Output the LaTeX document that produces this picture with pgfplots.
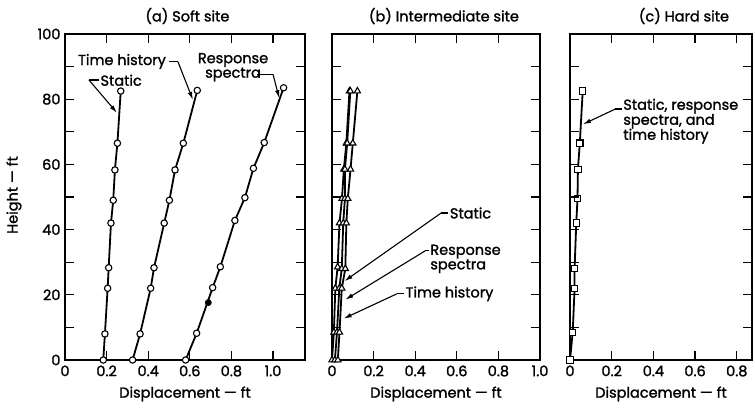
\documentclass[border=0pt]{standalone}
\usepackage{pgfplots}
\pgfplotsset{compat=1.18}
\usepackage{fontspec}
\setmainfont{Poppins}[UprightFeatures={FakeBold=1.4}]
\usetikzlibrary{arrows.meta}

\newcommand\lbl{\fontsize{14.5}{15.5}\selectfont}

\pgfplotsset{
  site/.style={
    scale only axis, height=326pt, ymin=0, ymax=100,
    axis line style={line width=1.4pt},
    xtick style={draw=black, line width=1.2pt},
    ytick style={draw=black, line width=1.2pt},
    tick align=inside, major tick length=9pt, minor tick length=9pt,
    ytick={0,20,40,60,80,100}, minor ytick={10,30,50,70,90},
    yticklabels={0,20,40,60,80,100},
    font=\lbl,
    tick label style={font=\lbl},
    /pgf/number format/assume math mode=true,
    xticklabel style={yshift=-2pt},
    xlabel={Displacement — ft},
    xlabel style={at={(axis description cs:0.5,0)}, anchor=center, yshift=-34pt},
    clip=false,
  },
  prof/.style={line width=1.8pt, black, mark size=3.2pt,
    mark options={fill=white, draw=black, line width=1.1pt, solid}},
}
\tikzset{
  lead/.style={line width=1.1pt, black},
  arr/.style={line width=1.1pt, black, -{Latex[length=8pt,width=4.5pt]}},
  tk/.style={line width=1.3pt, draw=black},
}

\begin{document}
\begin{tikzpicture}
\path[use as bounding box] (0pt,0pt) rectangle (755pt,407pt);

% (a) Soft site
\begin{axis}[site, at={(65pt,47pt)}, anchor=south west, width=240pt,
  xmin=0, xmax=1.154,
  xtick={0,0.2,0.4,0.6,0.8,1.0}, xticklabels={0,0.2,0.4,0.6,0.8,1.0},
  ylabel={Height — ft},
  ylabel style={at={(axis description cs:-0.2125,0.506)}, anchor=center},
  yticklabel style={xshift=-1pt},
  title={(a) Soft site}, title style={at={(axis description cs:0.51,1)}, anchor=center, yshift=12pt}]
% static
\addplot[prof, mark=*] coordinates {
  (0.184,0) (0.192,8) (0.205,22) (0.210,28.3) (0.221,42) (0.232,49)
  (0.240,58.3) (0.252,66.5) (0.268,82.5)};
% time history
\addplot[prof, mark=*] coordinates {
  (0.325,0) (0.361,8) (0.412,22) (0.428,28.3) (0.477,42) (0.502,49)
  (0.529,58.3) (0.569,66.5) (0.636,82.7)};
% response spectra
\addplot[prof, mark=*] coordinates {
  (0.580,0) (0.633,8.2) (0.710,22.2) (0.747,28.6) (0.817,42.8) (0.865,49.8)
  (0.906,58.8) (0.958,66.7) (1.051,83.5)};
\addplot[only marks, mark=*, mark size=3.2pt, black] coordinates {(0.689,17.6)};

\node at (axis cs:0.274,91.6) {Time history};
\draw[lead] (axis cs:0.500,91.5) -- (axis cs:0.543,91.5);
\draw[arr] (axis cs:0.543,91.5) -- (axis cs:0.615,79.8);
\node[anchor=west, inner sep=0pt] at (axis cs:0.170,85.8) {Static};
\draw[lead] (axis cs:0.165,85.9) -- (axis cs:0.115,85.9);
\draw[arr] (axis cs:0.115,85.9) -- (axis cs:0.250,75.8);
\node[align=center, inner sep=0pt] at (axis cs:0.808,89.8) {Response\\[-1pt]spectra};
\draw[lead] (axis cs:0.925,87.7) -- (axis cs:1.0,87.7);
\draw[arr] (axis cs:1.0,87.7) -- (axis cs:1.030,80.3);
\end{axis}

% (b) Intermediate site
\begin{axis}[site, at={(332pt,47pt)}, anchor=south west, width=208pt,
  xmin=0, xmax=1.0,
  xtick={0,0.2,0.4,0.6,0.8,1.0}, xticklabels={0,0.2,0.4,0.6,0.8,1.0},
  yticklabels={},
  title={(b) Intermediate site}, title style={at={(axis description cs:0.538,1)}, anchor=center, yshift=12pt}]
% time history
\addplot[prof, mark=triangle*, mark size=3.6pt] coordinates {
  (0,0) (0.009,8.5) (0.016,22) (0.027,28.5) (0.036,42) (0.048,49.5)
  (0.057,58.5) (0.069,66.5) (0.084,82.5)};
% response spectra
\addplot[prof, mark=triangle*, mark size=3.6pt] coordinates {
  (0.014,0) (0.024,8.5) (0.035,22) (0.047,28) (0.054,42) (0.062,49.5)
  (0.062,58.5) (0.073,66.5) (0.088,82.5)};
% static
\addplot[prof, mark=triangle*, mark size=3.6pt] coordinates {
  (0.028,0) (0.036,8.5) (0.047,22) (0.064,28) (0.069,42) (0.076,49.5)
  (0.089,58.5) (0.100,66.5) (0.122,82.5)};

\node[anchor=west, inner sep=0pt] at (axis cs:0.566,45.1) {Static};
\draw[lead] (axis cs:0.525,45.1) -- (axis cs:0.560,45.1);
\draw[arr] (axis cs:0.525,45.1) -- (axis cs:0.060,24.2);
\node[anchor=west, align=left, inner sep=0pt] at (axis cs:0.472,31.0) {Response\\[-1pt]spectra};
\draw[lead] (axis cs:0.451,33.6) -- (axis cs:0.468,33.6);
\draw[arr] (axis cs:0.451,33.6) -- (axis cs:0.064,18.5);
\node[anchor=west, inner sep=0pt] at (axis cs:0.353,20.3) {Time history};
\draw[lead] (axis cs:0.312,20.3) -- (axis cs:0.348,20.3);
\draw[arr] (axis cs:0.312,20.3) -- (axis cs:0.056,12.7);
\end{axis}

% (c) Hard site
\begin{axis}[site, at={(570pt,47pt)}, anchor=south west, width=182pt,
  xmin=0, xmax=0.873,
  xtick={0,0.2,0.4,0.6,0.8}, xticklabels={0,0.2,0.4,0.6,0.8},
  yticklabels={},
  title={(c) Hard site}, title style={at={(axis description cs:0.626,1)}, anchor=center, yshift=12pt}]
\addplot[prof, mark=square*, mark size=3.2pt] coordinates {
  (0,0) (0.013,8.5) (0.022,22) (0.022,28) (0.030,42) (0.036,49.5)
  (0.038,58.5) (0.047,66.5) (0.061,82.5)};

\node[anchor=north west, align=left, inner sep=0pt, font=\fontsize{14.5}{15}\selectfont]
  at (axis cs:0.255,80.2) {Static, response\\spectra, and\\time history};
\draw[lead] (axis cs:0.218,77) -- (axis cs:0.250,77);
\draw[arr] (axis cs:0.218,77) -- (axis cs:0.062,72.3);
\end{axis}

% inward tick marks round each panel frame (0.2 ft across, 10 ft up)
\foreach \xa/\w/\xm/\last in {65/240/1.154/1.0, 332/208/1.0/0.8, 570/182/0.873/0.8} {
  \foreach \v in {0.2,0.4,...,\last} {
    \draw[tk] ({(\xa+\v*\w/\xm)*1pt},47pt) -- ++(0pt,9pt);
    \draw[tk] ({(\xa+\v*\w/\xm)*1pt},373pt) -- ++(0pt,-9pt);
  }
  \foreach \k in {1,...,9} {
    \draw[tk] ({\xa*1pt},{(47+\k*32.6)*1pt}) -- ++(9pt,0pt);
    \draw[tk] ({(\xa+\w)*1pt},{(47+\k*32.6)*1pt}) -- ++(-9pt,0pt);
  }
}
\end{tikzpicture}
\end{document}
